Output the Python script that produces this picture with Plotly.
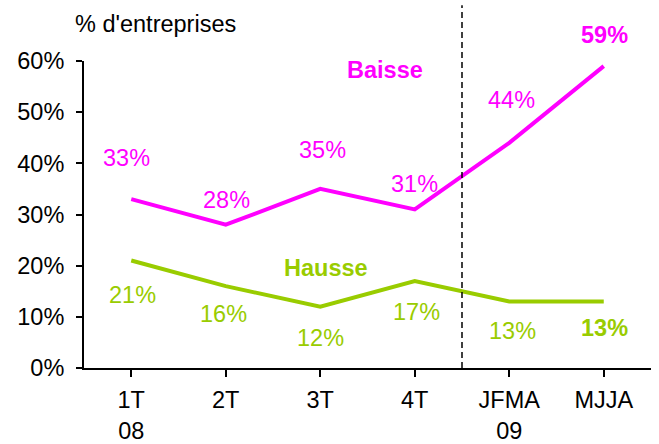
import plotly.graph_objects as go

categories = ["1T<br>08", "2T", "3T", "4T", "JFMA<br>09", "MJJA"]
baisse = [33, 28, 35, 31, 44, 59]
hausse = [21, 16, 12, 17, 13, 13]
y_ticks = [0, 10, 20, 30, 40, 50, 60]

# label offsets (pixels) - style only
baisse_dx = [-5, 1, 2, 0, 2, 1]
baisse_dy = [41, 25, 39, 25, 43, 31]
hausse_dx = [1, -2, 0, 2, 3, 1]
hausse_dy = [-34, -28, -31, -31, -30, -27]

MAG = "#FF00FF"
GRN = "#99CC00"
FONT = "Liberation Sans, Arial, sans-serif"
FS = 23.5

fig = go.Figure()
fig.add_trace(go.Scatter(x=list(range(len(categories))), y=baisse, mode="lines",
                         line=dict(color=MAG, width=4), hoverinfo="skip"))
fig.add_trace(go.Scatter(x=list(range(len(categories))), y=hausse, mode="lines",
                         line=dict(color=GRN, width=4), hoverinfo="skip"))

ann = []
n = len(categories)
for i in range(n):
    last = i == n - 1
    ann.append(dict(x=i, y=baisse[i], xref="x", yref="y", text=f"{baisse[i]}%",
                    showarrow=False, xshift=baisse_dx[i], yshift=baisse_dy[i],
                    font=dict(color=MAG, size=FS, family=FONT,
                              weight="bold" if last else "normal")))
    ann.append(dict(x=i, y=hausse[i], xref="x", yref="y", text=f"{hausse[i]}%",
                    showarrow=False, xshift=hausse_dx[i], yshift=hausse_dy[i],
                    font=dict(color=GRN, size=FS, family=FONT,
                              weight="bold" if last else "normal")))

ann.append(dict(x=2.685, y=58.2, xref="x", yref="y", text="<b>Baisse</b>", showarrow=False,
                font=dict(color=MAG, size=FS, family=FONT)))
ann.append(dict(x=2.06, y=19.5, xref="x", yref="y", text="<b>Hausse</b>", showarrow=False,
                font=dict(color=GRN, size=FS, family=FONT)))
ann.append(dict(x=-0.02, y=1.12, xref="paper", yref="paper", xanchor="left", yanchor="middle",
                text="% d'entreprises", showarrow=False,
                font=dict(color="black", size=FS, family=FONT)))

fig.update_layout(
    width=659, height=444,
    margin=dict(l=84, r=8, t=61, b=76, autoexpand=False),
    paper_bgcolor="white", plot_bgcolor="white",
    showlegend=False,
    annotations=ann,
    font=dict(family=FONT, size=FS, color="black"),
    shapes=[dict(type="line", xref="x", yref="paper", x0=3.5, x1=3.5, y0=0, y1=1.182,
                 line=dict(color="black", width=1.5, dash="6px,4px"))],
)
fig.update_xaxes(range=[-0.5, n - 0.5], tickmode="array", tickvals=list(range(n)),
                 ticktext=categories, showline=True, linecolor="black", linewidth=2,
                 ticks="outside", ticklen=7, tickwidth=2, tickcolor="black",
                 showgrid=False, zeroline=False, tickson="boundaries", automargin=False,
                 ticklabelstandoff=3, tickfont=dict(size=FS, family=FONT))
fig.update_yaxes(range=[0, 60], tickmode="array", tickvals=y_ticks,
                 ticktext=[f"{v}%" for v in y_ticks], showline=True, linecolor="black",
                 linewidth=2, ticks="outside", ticklen=6, tickwidth=2, tickcolor="black",
                 showgrid=False, zeroline=False, ticklabelstandoff=7, automargin=False,
                 tickfont=dict(size=FS, family=FONT))

fig.write_html("out.html", config={"displayModeBar": False},
               post_script="document.body.style.margin='0';")
